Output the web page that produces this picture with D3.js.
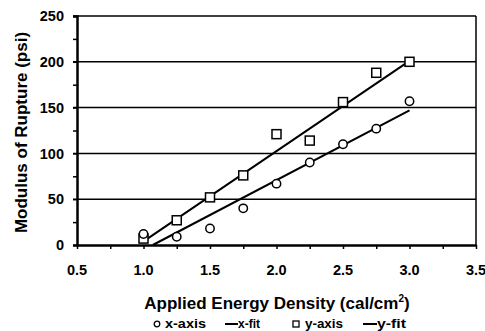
<!DOCTYPE html>
<html>
<head>
<meta charset="utf-8">
<script src="https://cdn.jsdelivr.net/npm/d3@7"></script>
<style>
  body { margin: 0; background: #fff; }
  text { font-family: "Liberation Sans", Arial, sans-serif; font-weight: bold; fill: #000; }
</style>
</head>
<body>
<div id="chart"></div>
<script>
// data
var energy = [1.0, 1.25, 1.5, 1.75, 2.0, 2.25, 2.5, 2.75, 3.0];
var xAxisMor = [12, 9, 18, 40, 67, 90, 110, 127, 157];
var yAxisMor = [7, 27, 52, 76, 121, 114, 156, 188, 200];
var xFitPts = [[1.07, 0], [3.0, 147]];
var yFitPts = [[1.0, 4], [3.0, 201]];
var xTicks = [0.5, 1.0, 1.5, 2.0, 2.5, 3.0, 3.5];
var yTicks = [0, 50, 100, 150, 200, 250];

var svgWidth = 485, svgHeight = 331;
var margin = {top: 16, right: 9, bottom: 86, left: 77};
var width = svgWidth - margin.left - margin.right;
var height = svgHeight - margin.top - margin.bottom;

var svg = d3.select("#chart").append("svg")
  .attr("width", svgWidth)
  .attr("height", svgHeight);

var g = svg.append("g")
  .attr("transform", `translate(${margin.left}, ${margin.top})`);

var x = d3.scaleLinear().domain([0.5, 3.5]).range([0, width]);
var y = d3.scaleLinear().domain([0, 250]).range([height, 0]);

// gridlines
g.selectAll(".grid").data([50, 100, 150, 200]).enter().append("line")
  .attr("x1", -4).attr("x2", width)
  .attr("y1", d => y(d)).attr("y2", d => y(d))
  .attr("stroke", "#000").attr("stroke-width", 1.5);

// frame
g.append("line").attr("x1", -4).attr("x2", width).attr("y1", 0).attr("y2", 0)
  .attr("stroke", "#000").attr("stroke-width", 1.5);
g.append("line").attr("x1", width).attr("x2", width).attr("y1", 0).attr("y2", height)
  .attr("stroke", "#000").attr("stroke-width", 1.5);

// y axis
var yAxis = g.append("g")
  .call(d3.axisLeft(y).tickValues(d3.range(0, 251, 25)).tickSize(4).tickFormat(""));
yAxis.select(".domain").attr("stroke-width", 2.5);
yAxis.selectAll(".tick line").attr("stroke-width", 1.5);

g.selectAll(".ylab").data(yTicks).enter().append("text")
  .attr("x", -13).attr("y", d => y(d)).attr("dy", "0.36em")
  .attr("text-anchor", "end").attr("font-size", 14.5)
  .text(d => d);

// x axis
var xAxis = g.append("g")
  .attr("transform", `translate(0, ${height})`)
  .call(d3.axisBottom(x).tickValues(d3.range(0.5, 3.51, 0.25)).tickSize(4).tickFormat("").tickSizeOuter(0));
xAxis.select(".domain").attr("stroke-width", 2.5);
xAxis.selectAll(".tick line").attr("stroke-width", 1.5);

g.selectAll(".xlab").data(xTicks).enter().append("text")
  .attr("x", d => x(d)).attr("y", height + 30)
  .attr("text-anchor", "middle").attr("font-size", 14.5)
  .text(d => d.toFixed(1));

// fit lines
var line = d3.line().x(d => x(d[0])).y(d => y(d[1]));
[xFitPts, yFitPts].forEach(function(pts) {
  g.append("path").attr("d", line(pts))
    .attr("fill", "none").attr("stroke", "#000").attr("stroke-width", 2);
});

// markers
g.selectAll(".sq").data(energy).enter().append("rect")
  .attr("x", (d) => x(d) - 4.5).attr("y", (d, i) => y(yAxisMor[i]) - 4.5)
  .attr("width", 9).attr("height", 9)
  .attr("fill", "#fff").attr("stroke", "#000").attr("stroke-width", 1.5);

g.selectAll(".circ").data(energy).enter().append("circle")
  .attr("cx", d => x(d)).attr("cy", (d, i) => y(xAxisMor[i]))
  .attr("r", 4.2)
  .attr("fill", "#fff").attr("stroke", "#000").attr("stroke-width", 1.5);

// axis titles
svg.append("text")
  .attr("transform", `translate(27, ${margin.top + height / 2 + 2}) rotate(-90)`)
  .attr("text-anchor", "middle").attr("font-size", 17)
  .text("Modulus of Rupture (psi)");

var xt = svg.append("text")
  .attr("x", 277).attr("y", 309)
  .attr("text-anchor", "middle").attr("font-size", 17);
xt.append("tspan").text("Applied Energy Density (cal/cm");
xt.append("tspan").attr("font-size", 10).attr("dy", -7).text("2");
xt.append("tspan").attr("dy", 7).text(")");

// legend
var leg = svg.append("g").attr("transform", "translate(0, 324)");
function legText(xPos, len, label) {
  leg.append("text").attr("x", xPos).attr("y", 3.8).attr("font-size", 12)
    .attr("textLength", len).attr("lengthAdjust", "spacingAndGlyphs").text(label);
}
leg.append("circle").attr("cx", 157).attr("cy", 0).attr("r", 2.8)
  .attr("fill", "#fff").attr("stroke", "#000").attr("stroke-width", 1.3);
legText(165, 41, "x-axis");
leg.append("line").attr("x1", 225).attr("x2", 238).attr("y1", 0).attr("y2", 0)
  .attr("stroke", "#000").attr("stroke-width", 2);
legText(238, 22, "x-fit");
leg.append("rect").attr("x", 293).attr("y", -3).attr("width", 6).attr("height", 6)
  .attr("fill", "#fff").attr("stroke", "#000").attr("stroke-width", 1.3);
legText(305, 38, "y-axis");
leg.append("line").attr("x1", 363).attr("x2", 377).attr("y1", 0).attr("y2", 0)
  .attr("stroke", "#000").attr("stroke-width", 2);
legText(377, 29, "y-fit");
</script>
</body>
</html>
